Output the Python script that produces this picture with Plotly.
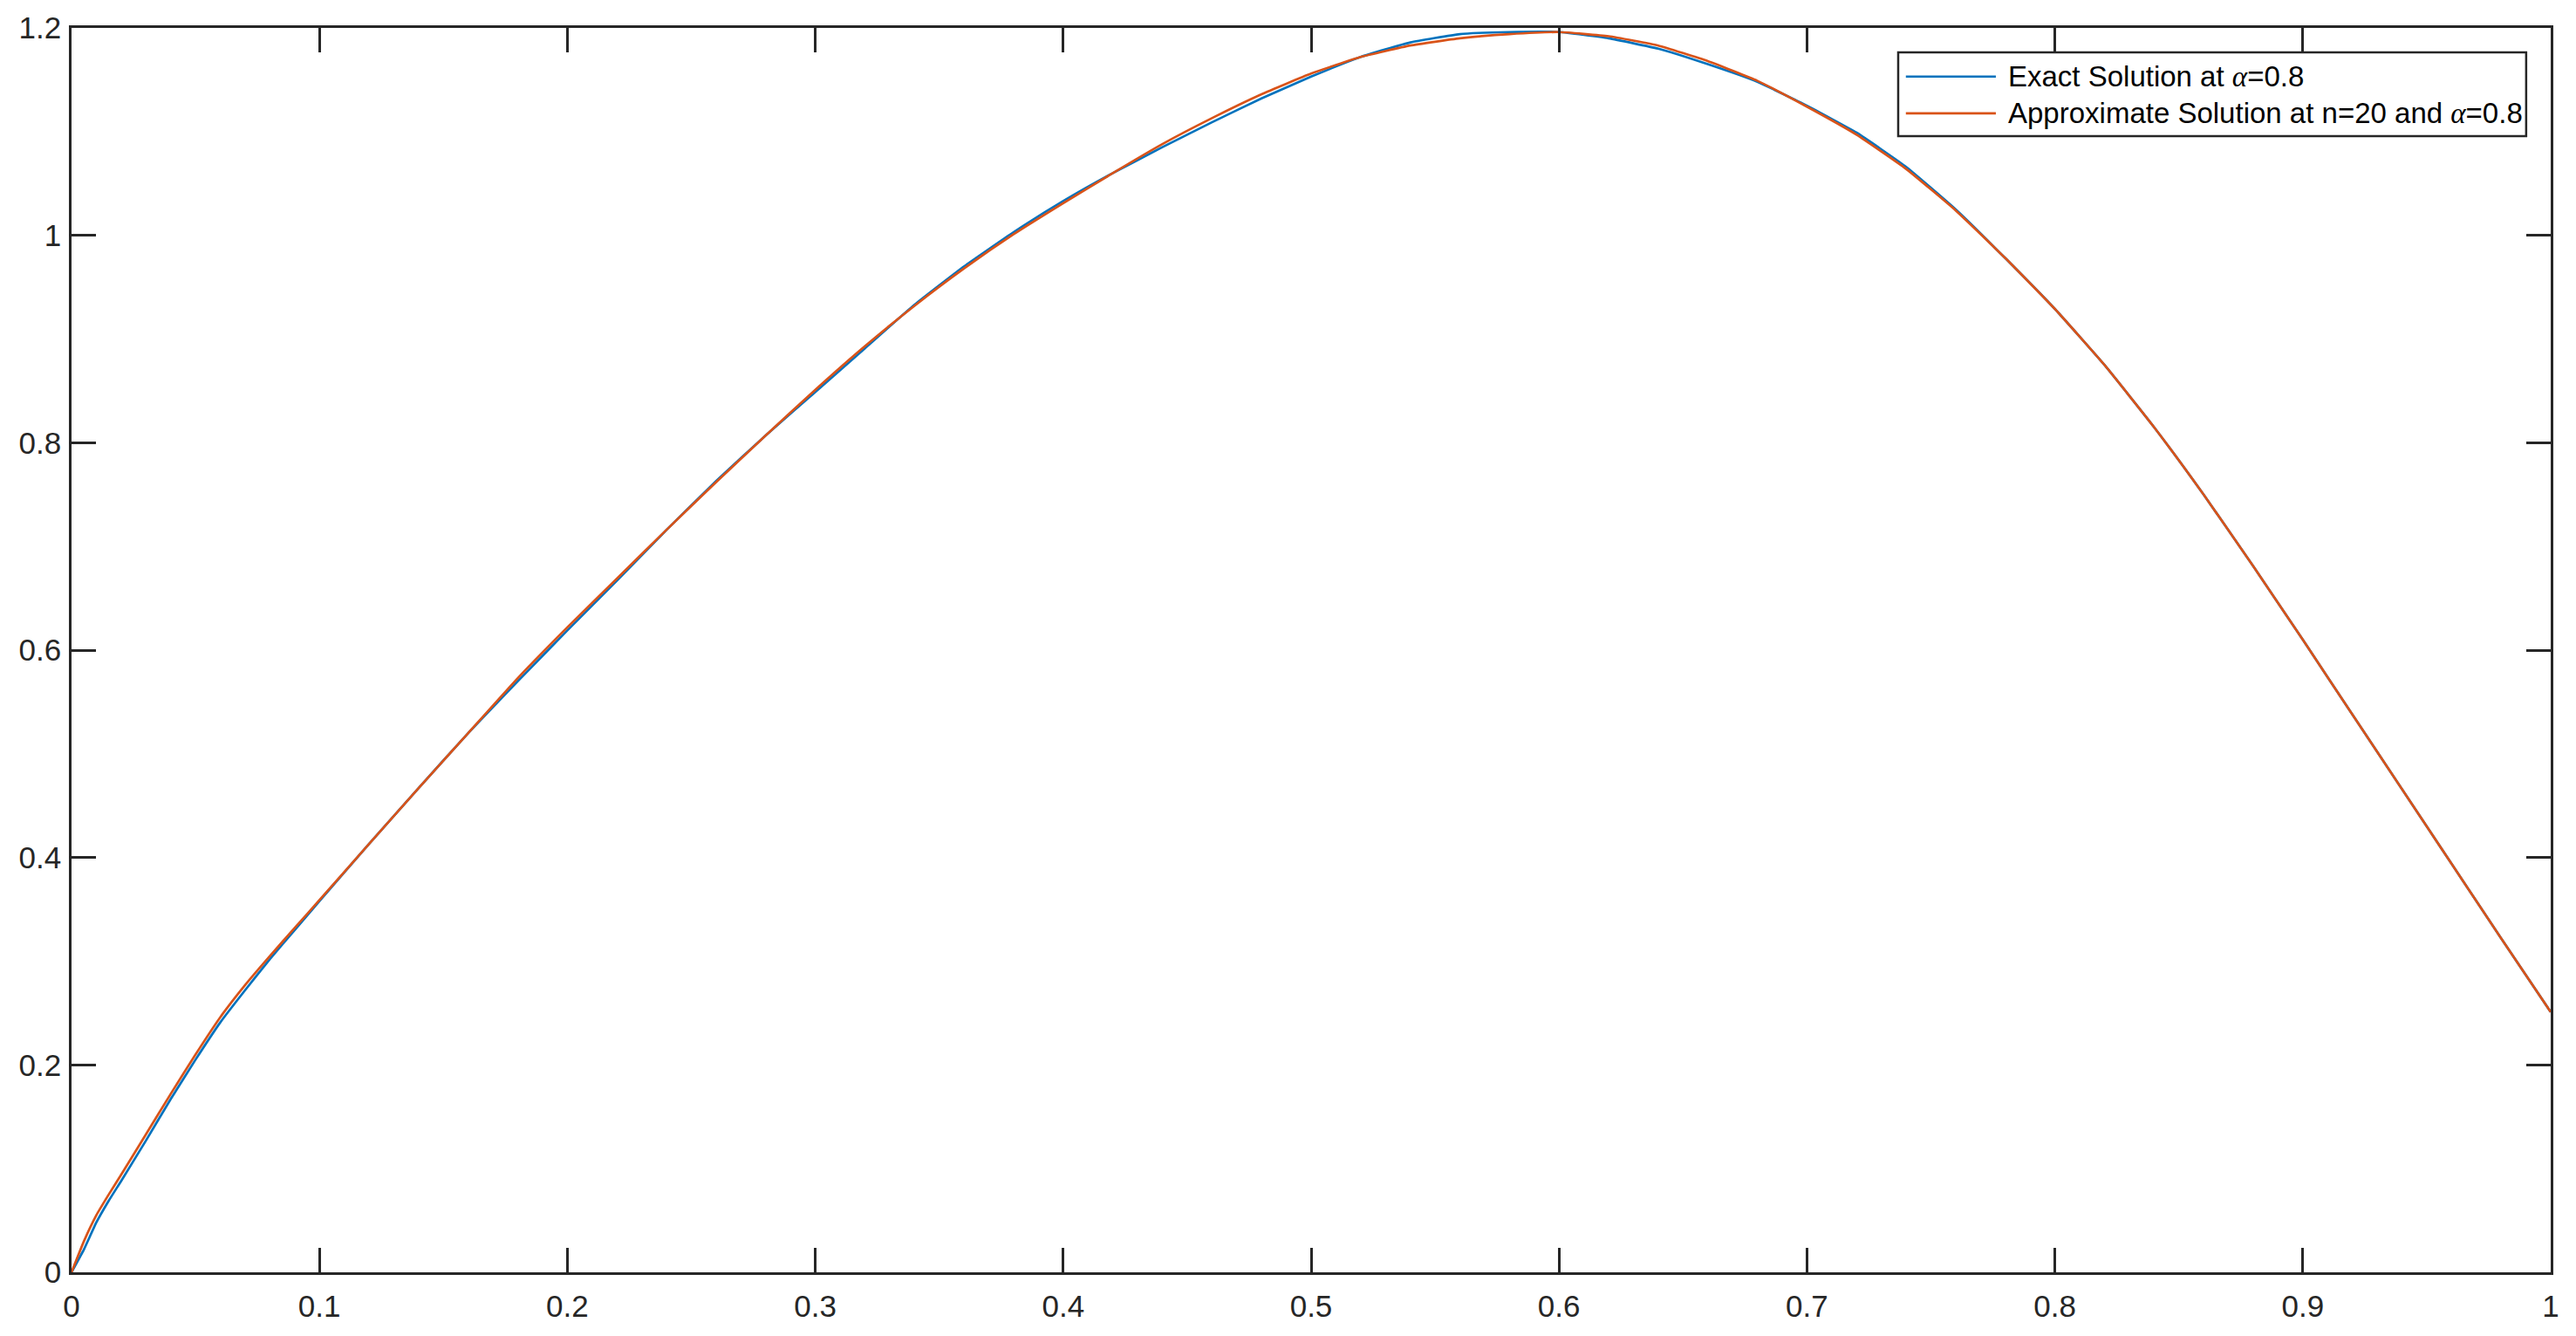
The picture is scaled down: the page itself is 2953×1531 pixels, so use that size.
import plotly.graph_objects as go

# values
x_vals = [0, 0.005, 0.01, 0.015, 0.02, 0.03, 0.04, 0.05, 0.06, 0.07, 0.08, 0.09, 0.1,
          0.12, 0.14, 0.16, 0.18, 0.2, 0.22, 0.24, 0.26, 0.28, 0.3, 0.32, 0.34, 0.36,
          0.38, 0.4, 0.42, 0.44, 0.46, 0.48, 0.5, 0.52, 0.54, 0.56, 0.58, 0.6, 0.62,
          0.64, 0.66, 0.68, 0.7, 0.72, 0.74, 0.76, 0.78, 0.8, 0.82, 0.84, 0.86, 0.88,
          0.9, 0.92, 0.94, 0.96, 0.98, 1.0]

y_exact = [0, 0.022, 0.048, 0.069, 0.088, 0.127, 0.167, 0.205, 0.241, 0.272, 0.302,
           0.330, 0.358, 0.413, 0.467, 0.520, 0.570, 0.619, 0.667, 0.716, 0.763, 0.807,
           0.849, 0.891, 0.933, 0.970, 1.003, 1.033, 1.060, 1.085, 1.109, 1.132, 1.153,
           1.172, 1.186, 1.194, 1.196, 1.196, 1.190, 1.180, 1.165, 1.148, 1.125, 1.099,
           1.066, 1.025, 0.978, 0.929, 0.875, 0.815, 0.750, 0.681, 0.610, 0.538, 0.466,
           0.394, 0.322, 0.251]

y_approx = [0, 0.030, 0.055, 0.075, 0.094, 0.133, 0.172, 0.210, 0.246, 0.277, 0.305,
            0.332, 0.359, 0.413, 0.467, 0.520, 0.573, 0.622, 0.669, 0.716, 0.762, 0.807,
            0.851, 0.893, 0.932, 0.968, 1.001, 1.031, 1.060, 1.088, 1.113, 1.136, 1.156,
            1.172, 1.183, 1.190, 1.194, 1.196, 1.192, 1.183, 1.168, 1.149, 1.124, 1.097,
            1.064, 1.024, 0.978, 0.929, 0.875, 0.815, 0.750, 0.681, 0.610, 0.538, 0.466,
            0.394, 0.322, 0.251]

names = ["Exact Solution at α=0.8", "Approximate Solution at n=20 and α=0.8"]
alpha = "<span style='font-family:Liberation Serif'><i>α</i></span>"
legend_labels = [
    f"Exact Solution at {alpha}=0.8",
    f"Approximate Solution at n=20 and {alpha}=0.8",
]
colors = ["#0072BD", "#D95319"]

fig = go.Figure()
for ys, name, col in zip([y_exact, y_approx], names, colors):
    fig.add_trace(go.Scatter(x=x_vals, y=ys, mode="lines", name=name,
                             line=dict(color=col, width=2.7, shape="spline", smoothing=0.4),
                             showlegend=False))

axis_style = dict(showline=True, linecolor="#262626", linewidth=2.5, mirror="ticks",
                  ticks="inside", ticklen=28, tickwidth=2.5, tickcolor="#262626",
                  showgrid=False, zeroline=False, automargin=False,
                  tickfont=dict(family="Liberation Sans, Arial", size=35, color="#262626"))
fig.update_xaxes(range=[0, 1], dtick=0.1, ticklabelstandoff=6, **axis_style)
fig.update_yaxes(range=[0, 1.2], dtick=0.2, ticklabelstandoff=2, **axis_style)

# legend box drawn by hand (matlab style: long line samples)
fig.add_shape(type="rect", xref="paper", yref="paper", x0=0.7368, x1=0.9901,
              y0=0.9130, y1=0.9804, line=dict(color="#262626", width=2.5),
              fillcolor="white", layer="above")
for i, yc in enumerate([0.9609, 0.9313]):
    fig.add_shape(type="line", xref="paper", yref="paper", x0=0.7399, x1=0.7762,
                  y0=yc, y1=yc, line=dict(color=colors[i], width=2.7), layer="above")
    fig.add_annotation(x=0.7805, y=yc, xref="paper", yref="paper", text=legend_labels[i],
                       showarrow=False, xanchor="left", yanchor="middle",
                       font=dict(family="Liberation Sans, Arial", size=33, color="black"))

# page body has an 8px margin, so the figure is a bit smaller than the window
fig.update_layout(width=2937, height=1515, plot_bgcolor="white", paper_bgcolor="white",
                  margin=dict(l=74, r=21, t=24, b=65))
fig.write_html("out.html")
